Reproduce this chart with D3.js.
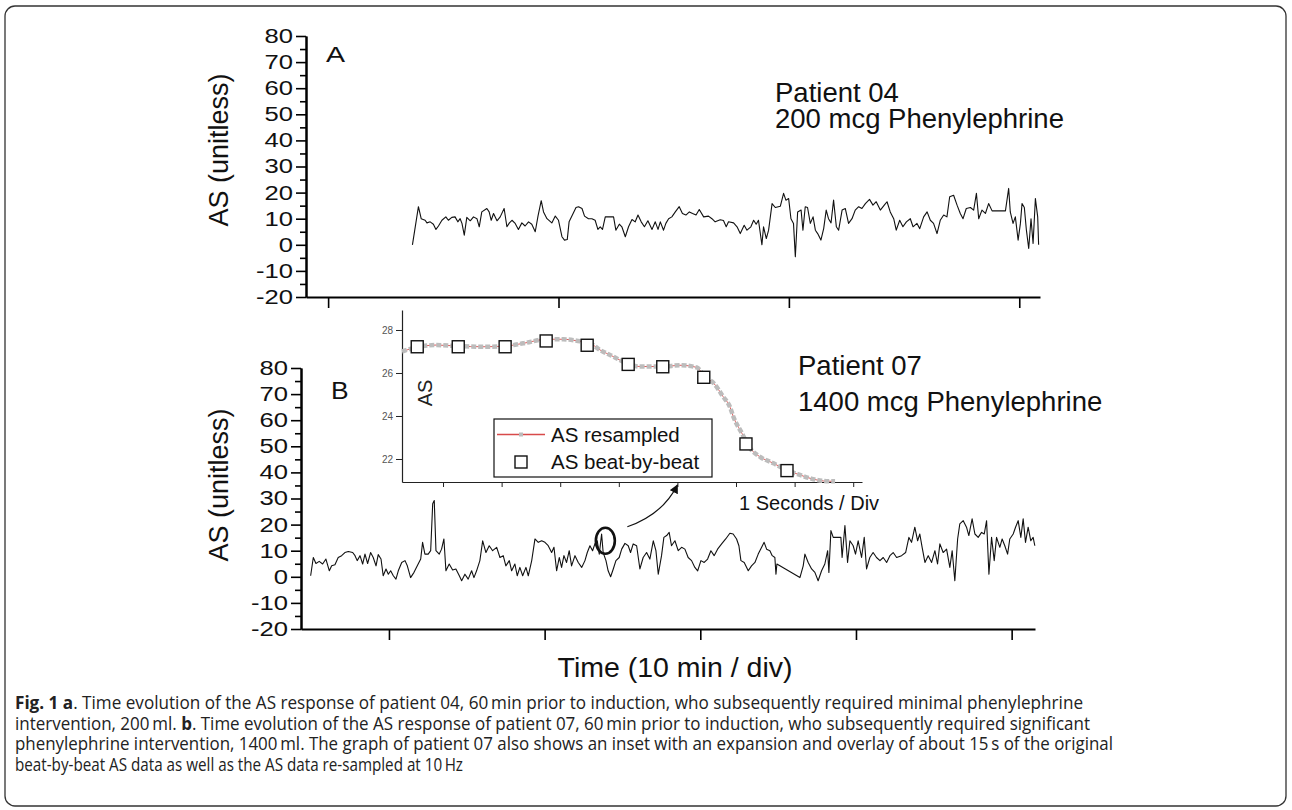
<!DOCTYPE html>
<html>
<head>
<meta charset="utf-8">
<script src="https://cdn.jsdelivr.net/npm/d3@7"></script>
<style>
  body { margin: 0; background: #fff; }
  svg { display: block; font-family: "Liberation Sans", Arial, sans-serif; }
</style>
</head>
<body>
<svg id="fig" width="1292" height="810"></svg>
<script>
// ---- data (time in minutes, AS unitless) ----
var patient04 = [[3.66,0],[3.92,14.6],[4.04,10],[4.21,9.4],[4.29,8.4],[4.43,8.8],[4.57,7.9],[4.68,5.9],[4.79,7.2],[4.94,9.4],
  [5.11,10.7],[5.22,9.4],[5.37,10.5],[5.51,10.7],[5.63,8.8],[5.73,10],[5.81,8.2],[5.91,3.7],[6.02,10.5],[6.17,9.2],
  [6.31,10.7],[6.46,10],[6.56,6.9],[6.67,12.6],[6.89,13.9],[6.99,12.6],[7.08,9.4],[7.18,12],[7.33,9.2],[7.47,10.7],
  [7.64,13.9],[7.76,6.9],[7.87,8.4],[7.98,9.4],[8.12,8.2],[8.26,5.9],[8.41,8.4],[8.55,7.2],[8.70,8.8],[8.84,7.9],
  [8.99,5],[9.11,11],[9.25,16.9],[9.35,12.6],[9.50,10],[9.71,8.4],[9.86,11],[10.00,9.4],[10.15,3.1],[10.26,1.8],
  [10.38,2],[10.46,8.8],[10.65,12.3],[10.76,14.3],[10.87,14.6],[11.02,13.9],[11.13,11],[11.30,10],[11.45,10],[11.59,9.4],
  [11.71,5.9],[11.81,6.9],[11.91,5.9],[12.03,10.7],[12.20,10.7],[12.39,10.7],[12.49,5.6],[12.64,7.9],[12.75,6.9],[12.90,3.1],
  [13.04,6.9],[13.19,9.7],[13.33,8.8],[13.45,11.4],[13.59,8.8],[13.73,6.9],[13.88,9.2],[14.06,5.9],[14.20,8.8],[14.32,5.9],
  [14.42,8.8],[14.56,5.6],[14.66,8.2],[14.78,10],[14.92,10.7],[15.07,12.6],[15.24,14.6],[15.38,12],[15.53,11.4],[15.68,12.6],
  [15.82,12],[15.97,11.4],[16.11,13.5],[16.30,10.7],[16.51,11],[16.66,10],[16.80,8.8],[17.02,9.6],[17.16,9.3],[17.28,6.9],
  [17.38,8.8],[17.60,8.4],[17.75,6.9],[17.89,4.3],[18.06,7.5],[18.18,5.6],[18.35,6.9],[18.47,9.4],[18.58,7.9],[18.68,9.4],
  [18.83,0],[18.90,6.9],[19.02,2.4],[19.12,5.6],[19.27,15.8],[19.41,14.3],[19.63,14.8],[19.77,19.7],[19.87,17.1],[19.99,17.7],
  [20.09,10],[20.20,8.2],[20.28,-4.6],[20.38,12.6],[20.53,13.3],[20.61,5.6],[20.71,14.6],[20.81,14.3],[20.93,8.2],[21.05,10.7],
  [21.15,5.6],[21.25,4.3],[21.39,1.8],[21.51,6.2],[21.62,13.3],[21.72,10],[21.83,8.4],[21.94,17.1],[22.06,6.9],[22.16,5.6],
  [22.31,13.3],[22.45,13.9],[22.59,8.2],[22.74,10],[22.88,13.3],[23.03,14.6],[23.17,13.9],[23.32,15.8],[23.50,17.4],[23.65,15.2],
  [23.79,16.5],[23.97,13.3],[24.14,15.2],[24.26,16.5],[24.40,12.6],[24.55,10],[24.66,5.6],[24.81,9.4],[24.95,6.9],[25.10,8.8],
  [25.27,10],[25.39,6.9],[25.56,8.2],[25.68,6.2],[25.85,10.7],[26.00,12.6],[26.14,9.4],[26.28,8.2],[26.43,4.3],[26.57,9.4],
  [26.72,11.4],[26.86,10.7],[26.98,18.4],[27.15,19],[27.30,15.2],[27.44,12],[27.56,10],[27.70,13.9],[27.88,14.3],[28.02,13.3],
  [28.14,19.7],[28.24,10],[28.38,13.3],[28.53,12],[28.67,15.8],[28.82,13],[29.40,13],[29.54,21.6],[29.61,12.6],[29.73,8.2],
  [29.83,10.7],[29.95,1.8],[30.05,8.2],[30.12,15.8],[30.22,14.3],[30.31,5.6],[30.41,-1.4],[30.51,10],[30.60,0.5],[30.70,17.7],
  [30.80,10.7],[30.84,0]];

var patient07 = [[-5.03,0.4],[-4.86,7.4],[-4.69,5.1],[-4.48,5.9],[-4.26,4.9],[-4.05,6.8],[-3.83,2.3],[-3.68,4.2],[-3.47,4.6],[-3.26,7.4],
  [-3.04,8.1],[-2.83,9.3],[-2.61,9.7],[-2.33,9.3],[-2.18,8.1],[-2.04,6.2],[-1.86,8.1],[-1.69,4.9],[-1.54,8.7],[-1.37,5.1],
  [-1.18,9.3],[-1.01,7.4],[-0.83,4.2],[-0.69,8.5],[-0.51,6.8],[-0.37,0.4],[-0.19,3],[-0.04,1],[0.11,2.3],[0.28,0.4],
  [0.45,-0.9],[0.60,2.3],[0.82,5.5],[1.03,6.2],[1.18,4.2],[1.39,-0.3],[1.61,1.7],[1.82,4.2],[2.04,6.8],[2.16,13.2],
  [2.31,8.7],[2.52,8.7],[2.68,10],[2.81,28],[2.91,29.2],[3.02,10],[3.23,8.7],[3.38,10.6],[3.53,14.5],[3.66,2.3],
  [3.87,4.9],[4.09,2.6],[4.30,3],[4.52,0.4],[4.67,-1.5],[4.88,1],[5.09,-0.9],[5.31,2.3],[5.46,-0.3],[5.63,2.3],
  [5.84,6.2],[6.02,13.8],[6.23,9.3],[6.44,11.9],[6.66,10],[6.92,11.3],[7.13,7.4],[7.34,8.1],[7.51,4.2],[7.73,6.2],
  [7.88,2.3],[8.09,4.9],[8.24,0.4],[8.41,3.6],[8.59,0.4],[8.80,3.6],[8.95,0.4],[9.17,6.2],[9.38,14.5],[9.59,13.2],
  [9.81,13.8],[10.02,13.2],[10.23,11.9],[10.45,9.3],[10.60,11.3],[10.77,2.3],[10.94,7.4],[11.09,3.6],[11.24,8.1],[11.41,5.5],
  [11.58,10],[11.73,4.2],[11.95,8.1],[12.16,5.5],[12.38,3.6],[12.59,6.2],[12.74,9.3],[12.91,11.9],[13.08,10],[13.23,12.6],
  [13.38,13.8],[13.51,8.7],[13.66,16.4],[13.76,9.3],[13.94,6.2],[14.08,2.3],[14.24,0],[14.41,3],[14.58,6.2],[14.79,7.4],
  [14.95,10.6],[15.16,12.8],[15.37,11.9],[15.52,9.3],[15.69,12.6],[15.91,11.9],[16.12,3],[16.33,7.4],[16.55,9.3],[16.76,6.8],
  [16.98,13.8],[17.15,10],[17.30,1],[17.51,8.1],[17.66,15.1],[17.84,15.8],[18.00,17],[18.15,11.9],[18.37,13.8],[18.58,10],
  [18.80,11.3],[19.01,10.6],[19.22,7.4],[19.44,6.2],[19.65,3.6],[19.83,2.3],[20.04,6.2],[20.25,5.5],[20.47,6.8],[20.68,10],
  [20.89,8.1],[21.11,10.6],[21.37,12.6],[21.63,14.5],[21.90,16.7],[22.11,16.4],[22.33,14.5],[22.48,11.9],[22.61,6.2],[22.82,5.5],
  [23.08,2.3],[23.29,4.2],[23.51,5.5],[23.72,8.7],[23.94,11.3],[24.10,13.2],[24.26,10.6],[24.47,10],[24.62,8.1],[24.79,7.4],
  [24.86,1],[24.92,4.9],[26.40,-0.3],[26.61,4.2],[26.72,8.7],[26.93,5.5],[27.15,3],[27.36,1.7],[27.57,-1.5],[27.79,2.3],
  [28.00,4.9],[28.18,10],[28.26,1.7],[28.39,17.7],[28.54,15.1],[29.03,15.1],[29.11,7.4],[29.29,19.6],[29.46,5.5],[29.61,13.8],
  [29.82,11.9],[29.97,8.7],[30.14,13.8],[30.36,7.4],[30.53,15.1],[30.68,3],[30.89,7.4],[31.10,9.3],[31.32,7.4],[31.54,6.2],
  [31.75,7.4],[31.97,5.5],[32.18,8.1],[32.39,9.3],[32.61,7.4],[32.93,8.1],[33.19,9.3],[33.40,15.1],[33.57,13.2],[33.78,19],
  [33.96,13.8],[34.10,16.4],[34.25,11.3],[34.43,5.5],[34.64,8.1],[34.86,5.5],[35.07,10],[35.24,4.9],[35.39,12.6],[35.60,9.3],
  [35.82,10.6],[36.03,3.6],[36.18,10],[36.35,-1.5],[36.53,14.5],[36.67,20.3],[36.89,21.5],[37.10,19],[37.25,15.8],[37.46,22.2],
  [37.64,16.4],[37.85,15.1],[38.07,17],[38.24,16.4],[38.39,21.5],[38.54,1],[38.71,15.1],[38.88,6.2],[39.03,15.1],[39.24,11.3],
  [39.39,14.5],[39.56,11.9],[39.74,8.7],[39.88,14.5],[40.10,16.4],[40.25,19],[40.42,21.5],[40.59,15.1],[40.74,22.2],[40.89,13.2],
  [41.06,19],[41.23,13.8],[41.38,15.1],[41.49,11.9]];

// inset: seconds vs AS
var beatTime = [0.56, 1.26, 2.06, 2.76, 3.46, 4.16, 4.75, 5.45, 6.17, 6.87];
var beatAS   = [27.22, 27.22, 27.22, 27.49, 27.29, 26.40, 26.29, 25.80, 22.70, 21.46];
var resampledTime = [0.30,0.56,0.89,1.26,1.68,2.06,2.37,2.77,3.05,3.28,3.51,3.68,3.91,4.13,4.36,4.76,5.04,5.33,5.47,5.61,5.78,5.90,5.95,6.10,6.24,6.41,6.64,6.86,7.09,7.32,7.49,7.69];
var resampledAS   = [27.0,27.2,27.3,27.25,27.22,27.25,27.38,27.57,27.57,27.5,27.38,27.07,26.76,26.45,26.3,26.3,26.36,26.26,25.8,25.55,24.9,24.4,24.0,23.2,22.5,22.1,21.8,21.49,21.26,21.06,20.98,20.96];

var yTicks = [-20,-10,0,10,20,30,40,50,60,70,80];
var yMinor = [-15,-5,5,15,25,35,45,55,65,75];
var xTicksA = [0,10,20,30];
var xTicksB = [0,10,20,30,40];
var insetYTicks = [22,24,26,28];
var insetXTicks = [1,2,3,4,5,6,7,8];
var zoomMark = {t: 13.9, as: 13.8};

var captionLines = [
  [["Fig. 1 a", true], [". Time evolution of the AS response of patient 04, 60\u2009min prior to induction, who subsequently required minimal phenylephrine", false]],
  [["intervention, 200\u2009ml. ", false], ["b", true], [". Time evolution of the AS response of patient 07, 60\u2009min prior to induction, who subsequently required significant", false]],
  [["phenylephrine intervention, 1400\u2009ml. The graph of patient 07 also shows an inset with an expansion and overlay of about 15\u2009s of the original", false]],
  [["beat-by-beat AS data as well as the AS data re-sampled at 10\u2009Hz", false]]
];
var captionWidths = [1068, 1075, 1098, 448];

var svg = d3.select("#fig");

// frame
svg.append("rect").attr("x", 5).attr("y", 6).attr("width", 1281).attr("height", 800)
   .attr("rx", 10).attr("fill", "none").attr("stroke", "#333").attr("stroke-width", 1.3);

var xA = d3.scaleLinear().domain([-0.96, 30.9]).range([306, 1040]);
var yA = d3.scaleLinear().domain([-20, 80]).range([297, 36]);
var xB = d3.scaleLinear().domain([-5.65, 41.5]).range([301, 1035]);
var yB = d3.scaleLinear().domain([-20, 80]).range([629, 368]);

// the figure's labels are drawn wider than the font, stretch them
function stretch(node, k) {
  var w = node.getComputedTextLength();
  d3.select(node).attr("textLength", w * k).attr("lengthAdjust", "spacingAndGlyphs");
}

function drawPanel(x, y, xt, data) {
  var gx = svg.append("g").attr("transform", "translate(0," + y.range()[0] + ")")
    .call(d3.axisBottom(x).tickValues(xt).tickSize(11).tickSizeOuter(0).tickFormat(""));
  var gm = svg.append("g").attr("transform", "translate(" + x.range()[0] + ",0)")
    .call(d3.axisLeft(y).tickValues(yMinor).tickSize(6).tickSizeOuter(0).tickFormat(""));
  var gy = svg.append("g").attr("transform", "translate(" + x.range()[0] + ",0)")
    .call(d3.axisLeft(y).tickValues(yTicks).tickSize(10).tickSizeOuter(0).tickPadding(3)
      .tickFormat(function(d){ return String(d); }));
  [gx, gm, gy].forEach(function(g){
    g.select(".domain").attr("stroke", "#000").attr("stroke-width", 2);
    g.selectAll(".tick line").attr("stroke", "#000").attr("stroke-width", 1.6);
  });
  gy.selectAll("text").attr("font-size", 20).attr("fill", "#111")
    .attr("font-family", "'Liberation Sans', Arial, sans-serif")
    .each(function(){ stretch(this, 1.28); });

  svg.append("path").datum(data)
    .attr("fill", "none").attr("stroke", "#111").attr("stroke-width", 1.1)
    .attr("stroke-linejoin", "round")
    .attr("d", d3.line().x(function(d){ return x(d[0]); }).y(function(d){ return y(d[1]); }));
}

drawPanel(xA, yA, xTicksA, patient04);
drawPanel(xB, yB, xTicksB, patient07);

// y titles
[150, 485].forEach(function(cy){
  svg.append("text").attr("transform", "translate(228," + cy + ") rotate(-90)")
    .attr("text-anchor", "middle").attr("font-size", 27).attr("fill", "#111").text("AS (unitless)");
});

// panel labels and annotations
var la = svg.append("text").attr("x", 326).attr("y", 62).attr("font-size", 22).attr("fill", "#111").text("A");
stretch(la.node(), 1.3);
var lb = svg.append("text").attr("x", 331).attr("y", 399).attr("font-size", 24).attr("fill", "#111").text("B");
stretch(lb.node(), 1.1);

svg.append("text").attr("x", 775).attr("y", 102).attr("font-size", 27.5).attr("fill", "#111").text("Patient 04");
svg.append("text").attr("x", 775).attr("y", 128).attr("font-size", 27.5).attr("fill", "#111").text("200 mcg Phenylephrine");
svg.append("text").attr("x", 798).attr("y", 375).attr("font-size", 27.5).attr("fill", "#111").text("Patient 07");
svg.append("text").attr("x", 798).attr("y", 411).attr("font-size", 27.5).attr("fill", "#111").text("1400 mcg Phenylephrine");

svg.append("text").attr("x", 675).attr("y", 677).attr("text-anchor", "middle")
   .attr("font-size", 28.5).attr("fill", "#111").text("Time (10 min / div)");

// ---- inset ----
var xI = d3.scaleLinear().domain([0.3, 8.15]).range([402, 862]);
var yI = d3.scaleLinear().domain([20.93, 28.93]).range([482, 310]);

var giy = svg.append("g").attr("transform", "translate(402,0)")
  .call(d3.axisLeft(yI).tickValues(insetYTicks).tickSize(6).tickSizeOuter(0).tickPadding(3));
var gix = svg.append("g").attr("transform", "translate(0,482)")
  .call(d3.axisBottom(xI).tickValues(insetXTicks).tickSize(5).tickSizeOuter(0).tickFormat(""));
[giy, gix].forEach(function(g){
  g.select(".domain").attr("stroke", "#222").attr("stroke-width", 1.2);
  g.selectAll(".tick line").attr("stroke", "#222").attr("stroke-width", 1);
});
giy.selectAll("text").attr("font-size", 10).attr("fill", "#555")
  .attr("font-family", "'Liberation Sans', Arial, sans-serif");

svg.append("text").attr("transform", "translate(432,393) rotate(-90)")
  .attr("text-anchor", "middle").attr("font-size", 20).attr("fill", "#222").text("AS");

var resampled = resampledTime.map(function(t, i){ return [t, resampledAS[i]]; });
var resLine = d3.line().curve(d3.curveMonotoneX)
  .x(function(d){ return xI(d[0]); }).y(function(d){ return yI(d[1]); });
svg.append("path").datum(resampled).attr("fill", "none")
  .attr("stroke", "#d84a4a").attr("stroke-width", 0.9).attr("d", resLine);
svg.append("path").datum(resampled).attr("fill", "none")
  .attr("stroke", "#bcbcbc").attr("stroke-width", 4.5).attr("stroke-dasharray", "5,2").attr("d", resLine);

svg.selectAll(".beat").data(beatTime).enter().append("rect").attr("class", "beat")
  .attr("x", function(d){ return xI(d) - 6; })
  .attr("y", function(d, i){ return yI(beatAS[i]) - 6; })
  .attr("width", 12).attr("height", 12)
  .attr("fill", "#fff").attr("stroke", "#111").attr("stroke-width", 1.4);

// legend
var lg = svg.append("g").attr("transform", "translate(494,419)");
lg.append("rect").attr("width", 218).attr("height", 58).attr("fill", "#fff")
  .attr("stroke", "#111").attr("stroke-width", 1.2);
lg.append("line").attr("x1", 3).attr("x2", 51).attr("y1", 15.5).attr("y2", 15.5)
  .attr("stroke", "#d84a4a").attr("stroke-width", 1.3);
lg.append("rect").attr("x", 25).attr("y", 13.5).attr("width", 4).attr("height", 4).attr("fill", "#bcbcbc");
lg.append("text").attr("x", 57).attr("y", 23).attr("font-size", 20.5).attr("fill", "#111").text("AS resampled");
lg.append("rect").attr("x", 21).attr("y", 37).attr("width", 12).attr("height", 12)
  .attr("fill", "#fff").attr("stroke", "#111").attr("stroke-width", 1.4);
lg.append("text").attr("x", 57).attr("y", 50).attr("font-size", 20.5).attr("fill", "#111").text("AS beat-by-beat");

svg.append("text").attr("x", 739).attr("y", 510).attr("font-size", 20).attr("fill", "#111").text("1 Seconds / Div");

// zoom marker + arrow
svg.append("defs").append("marker").attr("id", "arrowhead")
  .attr("viewBox", "0 0 10 10").attr("refX", 9).attr("refY", 5)
  .attr("markerWidth", 9).attr("markerHeight", 9).attr("markerUnits", "userSpaceOnUse")
  .attr("orient", "auto")
  .append("path").attr("d", "M0,0L10,5L0,10z").attr("fill", "#111");

var cx = xB(zoomMark.t), cy = yB(zoomMark.as);
svg.append("ellipse").attr("cx", cx).attr("cy", cy).attr("rx", 9.5).attr("ry", 13)
  .attr("fill", "none").attr("stroke", "#111").attr("stroke-width", 2.6);
var ax = xI(5.0), ay = yI(20.93) + 3;
svg.append("path")
  .attr("d", "M" + (cx + 22) + "," + (cy - 14) + " C" + (cx + 45) + "," + (cy - 22) + " " + (ax - 10) + "," + (ay + 20) + " " + ax + "," + ay)
  .attr("fill", "none").attr("stroke", "#111").attr("stroke-width", 1.2)
  .attr("marker-end", "url(#arrowhead)");

// caption
captionLines.forEach(function(line, i){
  var t = svg.append("text").attr("x", 15).attr("y", 709 + i * 20.6)
    .attr("font-family", "'Open Sans', 'Noto Sans', sans-serif").attr("font-size", 18.5).attr("fill", "#222")
    .attr("textLength", captionWidths[i]).attr("lengthAdjust", "spacingAndGlyphs");
  line.forEach(function(seg){
    t.append("tspan").attr("font-weight", seg[1] ? "bold" : "normal").text(seg[0]);
  });
});
</script>
</body>
</html>
